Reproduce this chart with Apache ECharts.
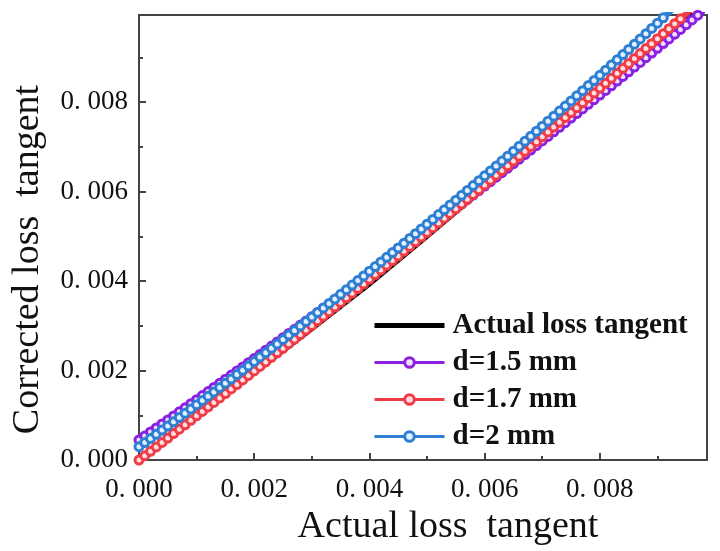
<!DOCTYPE html>
<html>
<head>
<meta charset="utf-8">
<script src="https://cdn.jsdelivr.net/npm/echarts@6/dist/echarts.min.js"></script>
<style>
  html, body { margin: 0; padding: 0; background: #fff; }
  #main { width: 720px; height: 551px; }
</style>
</head>
<body>
<div id="main"></div>
<script>
// actual loss tangent (x), step 0.0001
var actualTan = [
  0.0000, 0.0001, 0.0002, 0.0003, 0.0004, 0.0005, 0.0006, 0.0007, 0.0008, 0.0009,
  0.0010, 0.0011, 0.0012, 0.0013, 0.0014, 0.0015, 0.0016, 0.0017, 0.0018, 0.0019,
  0.0020, 0.0021, 0.0022, 0.0023, 0.0024, 0.0025, 0.0026, 0.0027, 0.0028, 0.0029,
  0.0030, 0.0031, 0.0032, 0.0033, 0.0034, 0.0035, 0.0036, 0.0037, 0.0038, 0.0039,
  0.0040, 0.0041, 0.0042, 0.0043, 0.0044, 0.0045, 0.0046, 0.0047, 0.0048, 0.0049,
  0.0050, 0.0051, 0.0052, 0.0053, 0.0054, 0.0055, 0.0056, 0.0057, 0.0058, 0.0059,
  0.0060, 0.0061, 0.0062, 0.0063, 0.0064, 0.0065, 0.0066, 0.0067, 0.0068, 0.0069,
  0.0070, 0.0071, 0.0072, 0.0073, 0.0074, 0.0075, 0.0076, 0.0077, 0.0078, 0.0079,
  0.0080, 0.0081, 0.0082, 0.0083, 0.0084, 0.0085, 0.0086, 0.0087, 0.0088, 0.0089,
  0.0090, 0.0091, 0.0092, 0.0093, 0.0094, 0.0095, 0.0096, 0.0097, 0.0098
];

// d = 1.5 mm
var d15 = [
  0.000450, 0.000539, 0.000629, 0.000718, 0.000808, 0.000898, 0.000988, 0.001079, 0.001169, 0.001260,
  0.001351, 0.001442, 0.001533, 0.001625, 0.001716, 0.001808, 0.001900, 0.001992, 0.002084, 0.002177,
  0.002270, 0.002362, 0.002456, 0.002549, 0.002642, 0.002736, 0.002830, 0.002923, 0.003018, 0.003112,
  0.003206, 0.003301, 0.003396, 0.003491, 0.003586, 0.003682, 0.003777, 0.003873, 0.003969, 0.004065,
  0.004161, 0.004258, 0.004354, 0.004451, 0.004548, 0.004645, 0.004743, 0.004840, 0.004938, 0.005036,
  0.005134, 0.005232, 0.005331, 0.005429, 0.005528, 0.005627, 0.005726, 0.005826, 0.005925, 0.006025,
  0.006125, 0.006225, 0.006325, 0.006426, 0.006526, 0.006627, 0.006728, 0.006829, 0.006930, 0.007032,
  0.007134, 0.007235, 0.007338, 0.007440, 0.007542, 0.007645, 0.007748, 0.007850, 0.007954, 0.008057,
  0.008160, 0.008264, 0.008368, 0.008472, 0.008576, 0.008681, 0.008785, 0.008890, 0.008995, 0.009100,
  0.009205, 0.009311, 0.009416, 0.009522, 0.009628, 0.009734, 0.009841, 0.009947, 0.010054
];

// d = 1.7 mm
var d17 = [
  0.000000, 0.000098, 0.000197, 0.000295, 0.000394, 0.000493, 0.000592, 0.000691, 0.000790, 0.000890,
  0.000989, 0.001089, 0.001189, 0.001289, 0.001389, 0.001489, 0.001590, 0.001690, 0.001791, 0.001892,
  0.001993, 0.002094, 0.002195, 0.002297, 0.002398, 0.002500, 0.002602, 0.002704, 0.002806, 0.002908,
  0.003011, 0.003113, 0.003216, 0.003319, 0.003422, 0.003525, 0.003629, 0.003732, 0.003836, 0.003939,
  0.004043, 0.004147, 0.004251, 0.004356, 0.004460, 0.004565, 0.004670, 0.004774, 0.004879, 0.004985,
  0.005090, 0.005195, 0.005301, 0.005407, 0.005513, 0.005619, 0.005725, 0.005831, 0.005938, 0.006044,
  0.006151, 0.006258, 0.006365, 0.006472, 0.006580, 0.006687, 0.006795, 0.006903, 0.007011, 0.007119,
  0.007227, 0.007335, 0.007444, 0.007552, 0.007661, 0.007770, 0.007879, 0.007988, 0.008098, 0.008207,
  0.008317, 0.008427, 0.008537, 0.008647, 0.008757, 0.008867, 0.008978, 0.009088, 0.009199, 0.009310,
  0.009421, 0.009532, 0.009644, 0.009755, 0.009867, 0.009979, 0.010091, 0.010203, 0.010315
];

// d = 2 mm
var d20 = [
  0.000300, 0.000392, 0.000485, 0.000578, 0.000672, 0.000765, 0.000859, 0.000953, 0.001048, 0.001142,
  0.001238, 0.001333, 0.001428, 0.001524, 0.001621, 0.001717, 0.001814, 0.001911, 0.002008, 0.002106,
  0.002204, 0.002302, 0.002400, 0.002499, 0.002598, 0.002697, 0.002797, 0.002897, 0.002997, 0.003098,
  0.003198, 0.003299, 0.003401, 0.003502, 0.003604, 0.003707, 0.003809, 0.003912, 0.004015, 0.004118,
  0.004222, 0.004326, 0.004430, 0.004534, 0.004639, 0.004744, 0.004850, 0.004955, 0.005061, 0.005167,
  0.005274, 0.005381, 0.005488, 0.005595, 0.005703, 0.005810, 0.005919, 0.006027, 0.006136, 0.006245,
  0.006354, 0.006464, 0.006574, 0.006684, 0.006795, 0.006905, 0.007016, 0.007128, 0.007239, 0.007351,
  0.007464, 0.007576, 0.007689, 0.007802, 0.007915, 0.008029, 0.008143, 0.008257, 0.008372, 0.008486,
  0.008601, 0.008717, 0.008832, 0.008948, 0.009065, 0.009181, 0.009298, 0.009415, 0.009532, 0.009650,
  0.009768, 0.009886, 0.010005, 0.010123, 0.010243, 0.010362, 0.010482, 0.010601, 0.010722
];

// reference line (mostly hidden under the others)
var refX = [0.000, 0.001, 0.002, 0.003, 0.004, 0.005, 0.006, 0.007, 0.008, 0.009, 0.0098];
var refY = [0.000000, 0.000965, 0.001940, 0.002920, 0.003920, 0.004990, 0.006080, 0.007170, 0.008270, 0.009370, 0.010250];

var names = ['Actual loss tangent', 'd=1.5 mm', 'd=1.7 mm', 'd=2 mm'];
var colors = ['#000000', '#8a20e3', '#f03c46', '#2e7fd4'];
var fills = ['#000000', '#f0e0ff', '#ffdde0', '#e2f1ff'];

function pairs(xs, ys) {
  var res = [];
  for (var i = 0; i < xs.length; i++) {
    res.push([xs[i], ys[i]]);
  }
  return res;
}

function fmt(v) {
  return v.toFixed(3).replace('.', '. ');
}

var chart = echarts.init(document.getElementById('main'));

function dotted(idx, ys) {
  return {
    name: names[idx],
    type: 'line',
    data: pairs(actualTan, ys),
    symbol: 'circle',
    symbolSize: 8,
    showSymbol: true,
    clip: true,
    lineStyle: { color: colors[idx], width: 6 },
    itemStyle: { color: fills[idx], borderColor: colors[idx], borderWidth: 3 },
    z: 2 + idx
  };
}

function legendItem(idx) {
  return {
    name: names[idx],
    lineStyle: { width: 3, color: colors[idx] },
    itemStyle: { color: fills[idx], borderColor: colors[idx], borderWidth: 3 }
  };
}

var serifFont = '"Liberation Serif", "Times New Roman", serif';
var axisColor = '#444';

var option = {
  animation: false,
  backgroundColor: '#fff',
  grid: {
    left: 139, right: 13, top: 15, bottom: 86,
    show: true,
    borderColor: axisColor,
    borderWidth: 2,
    backgroundColor: 'transparent'
  },
  legend: {
    orient: 'vertical',
    left: 372,
    top: 311,
    padding: 0,
    itemWidth: 70,
    itemHeight: 12,
    itemGap: 8,
    data: [
      { name: names[0], itemStyle: { opacity: 0 }, lineStyle: { width: 5, color: '#000' } },
      legendItem(1),
      legendItem(2),
      legendItem(3)
    ],
    textStyle: {
      fontFamily: serifFont,
      fontWeight: 'bold',
      fontSize: 29,
      color: '#111',
      padding: [0, 0, 0, 3]
    }
  },
  xAxis: {
    type: 'value',
    min: 0,
    max: 0.00986,
    interval: 0.002,
    name: 'Actual loss  tangent',
    nameLocation: 'middle',
    nameGap: 36,
    nameTextStyle: {
      fontFamily: serifFont, fontSize: 38, color: '#111',
      padding: [0, 0, 0, 50]
    },
    axisLine: { show: true, onZero: false, lineStyle: { color: axisColor, width: 2 } },
    axisTick: { show: true, inside: true, length: 7, lineStyle: { color: axisColor, width: 2 } },
    minorTick: { show: true, splitNumber: 2, length: 4, lineStyle: { color: axisColor, width: 2 } },
    axisLabel: {
      formatter: fmt, fontFamily: serifFont, fontSize: 27, color: '#111',
      margin: 16, showMaxLabel: false
    },
    splitLine: { show: false }
  },
  yAxis: {
    type: 'value',
    min: 0,
    max: 0.00995,
    interval: 0.002,
    name: 'Corrected loss  tangent',
    nameLocation: 'middle',
    nameGap: 92,
    nameTextStyle: {
      fontFamily: serifFont, fontSize: 38, color: '#111',
      padding: [0, 44, 0, 0]
    },
    axisLine: { show: true, onZero: false, lineStyle: { color: axisColor, width: 2 } },
    axisTick: { show: true, inside: true, length: 7, lineStyle: { color: axisColor, width: 2 } },
    minorTick: { show: true, splitNumber: 2, length: 4, lineStyle: { color: axisColor, width: 2 } },
    axisLabel: {
      formatter: fmt, fontFamily: serifFont, fontSize: 27, color: '#111',
      margin: 11, showMaxLabel: false
    },
    splitLine: { show: false }
  },
  series: [
    {
      name: names[0],
      type: 'line',
      data: pairs(refX, refY),
      symbol: 'none',
      clip: true,
      lineStyle: { color: colors[0], width: 4 },
      itemStyle: { color: colors[0] },
      z: 1
    },
    dotted(1, d15),
    dotted(2, d17),
    dotted(3, d20)
  ]
};

chart.setOption(option);
window.onresize = chart.resize;
</script>
</body>
</html>
